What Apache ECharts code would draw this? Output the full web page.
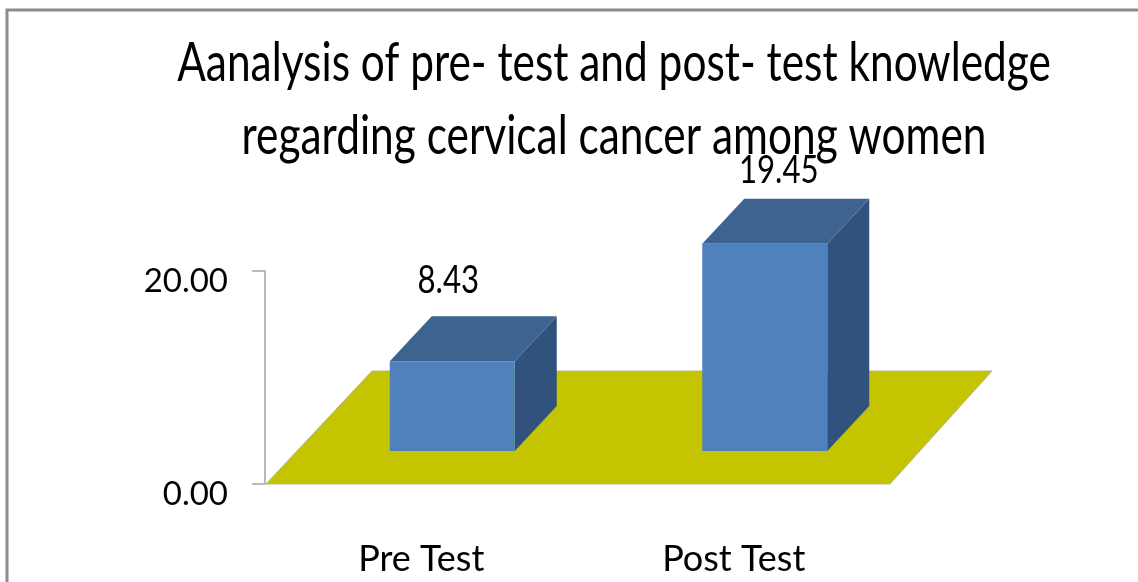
<!DOCTYPE html>
<html>
<head>
<meta charset="utf-8">
<title>Pre test and post test knowledge</title>
<style>
    html, body { margin: 0; padding: 0; background: #fff; }
    #chart { width: 1138px; height: 582px; }
</style>
<script src="https://cdn.jsdelivr.net/npm/echarts@6/dist/echarts.min.js"></script>
</head>
<body>
<div id="chart"></div>
<script>
var categories = ['Pre Test', 'Post Test'];
var scores = [8.43, 19.45];
var yTicks = [0, 20];
var titleLines = ['Aanalysis of pre- test and post- test knowledge', 'regarding cervical cancer among women'];

var textFont = 'Lato, "Liberation Sans", sans-serif';

/* 3d look, in pixels */
var BAR_WIDTH = 125;
var BAR_SHIFT = 31;      // front face sits right of the category centre
var BAR_LIFT = 33;       // front face sits above the axis
var DEPTH_X = 42;
var DEPTH_Y = 45;
var FLOOR_X = 102;
var FLOOR_Y = 113;
var LABEL_DX = [-4, 14];
var LABEL_DY = [-36, -28];

var chart = echarts.init(document.getElementById('chart'));

function renderFloor(params, api) {
    var cs = params.coordSys;
    var y0 = api.coord([0, 0])[1];
    var left = cs.x + 1, right = cs.x + cs.width;
    return {
        type: 'polygon',
        shape: { points: [
            [left, y0], [right, y0],
            [right + FLOOR_X, y0 - FLOOR_Y], [left + FLOOR_X + 4, y0 - FLOOR_Y]
        ] },
        style: { fill: '#c4c400', stroke: '#b4b48c', lineWidth: 1 }
    };
}

function renderBar(params, api) {
    var i = params.dataIndex;
    var top = api.coord([api.value(0), api.value(1)]);
    var y0 = api.coord([0, 0])[1];
    var x1 = top[0] + BAR_SHIFT - BAR_WIDTH / 2, x2 = x1 + BAR_WIDTH;
    var yBase = y0 - BAR_LIFT, yTop = top[1] - BAR_LIFT;
    return {
        type: 'group',
        children: [
            { type: 'polygon',
              shape: { points: [[x2, yTop], [x2 + DEPTH_X, yTop - DEPTH_Y], [x2 + DEPTH_X, yBase - DEPTH_Y], [x2, yBase]] },
              style: { fill: '#31527c' } },
            { type: 'polygon',
              shape: { points: [[x1, yTop], [x1 + DEPTH_X, yTop - DEPTH_Y], [x2 + DEPTH_X, yTop - DEPTH_Y], [x2, yTop]] },
              style: { fill: '#3d6390' } },
            { type: 'rect',
              shape: { x: x1, y: yTop, width: BAR_WIDTH, height: yBase - yTop },
              style: { fill: '#4f81bd' } },
            { type: 'text',
              x: (x1 + x2) / 2 + LABEL_DX[i],
              y: yTop - DEPTH_Y + LABEL_DY[i],
              scaleX: 0.8,
              style: {
                  text: api.value(1).toFixed(2),
                  font: '39px ' + textFont,
                  fill: '#000',
                  align: 'center',
                  verticalAlign: 'middle'
              } }
        ]
    };
}

function titleText(line, y) {
    return {
        type: 'text', z: 6, silent: true,
        x: 614, y: y, scaleX: 0.785,
        style: {
            text: line,
            font: '54px ' + textFont,
            fill: '#000',
            align: 'center'
        }
    };
}

var option = {
    animation: false,
    backgroundColor: '#fff',
    grid: { left: 265, top: 271, width: 625, height: 213 },
    xAxis: {
        type: 'category',
        data: categories,
        axisLine: { show: false },
        axisTick: { show: false },
        axisLabel: { margin: 57, color: '#000', fontFamily: textFont, fontSize: 36 }
    },
    yAxis: {
        type: 'value',
        min: yTicks[0],
        max: yTicks[1],
        interval: 20,
        splitLine: { show: false },
        axisLine: { show: true, lineStyle: { color: '#b9b9b9', width: 2 } },
        axisTick: { show: true, length: 13, lineStyle: { color: '#b9b9b9', width: 2 } },
        axisLabel: {
            margin: 37,
            color: '#000',
            fontFamily: textFont,
            fontSize: 33,
            verticalAlign: 'top',   // labels hang just below their ticks
            lineHeight: 20,
            formatter: function (v) { return v.toFixed(2); }
        }
    },
    /* the white strip hides the top of the label that runs under the title */
    graphic: [
        { type: 'rect', z: 4, silent: true,
          shape: { x: 200, y: 100, width: 800, height: 55 },
          style: { fill: '#fff' } },
        { type: 'polyline', z: 5, silent: true,
          shape: { points: [[7, 582], [7, 10], [1138, 10]] },
          style: { stroke: '#8c8c8c', lineWidth: 3, fill: null } },
        titleText(titleLines[0], 37),
        titleText(titleLines[1], 110)
    ],
    series: [
        {
            type: 'custom',
            z: 1,
            silent: true,
            renderItem: renderFloor,
            data: [[0, 0]],
            encode: { x: 0, y: 1 }
        },
        {
            type: 'custom',
            z: 2,
            silent: true,
            renderItem: renderBar,
            data: scores.map(function (v, i) { return [i, v]; }),
            encode: { x: 0, y: 1 }
        }
    ]
};

chart.setOption(option);
</script>
</body>
</html>
